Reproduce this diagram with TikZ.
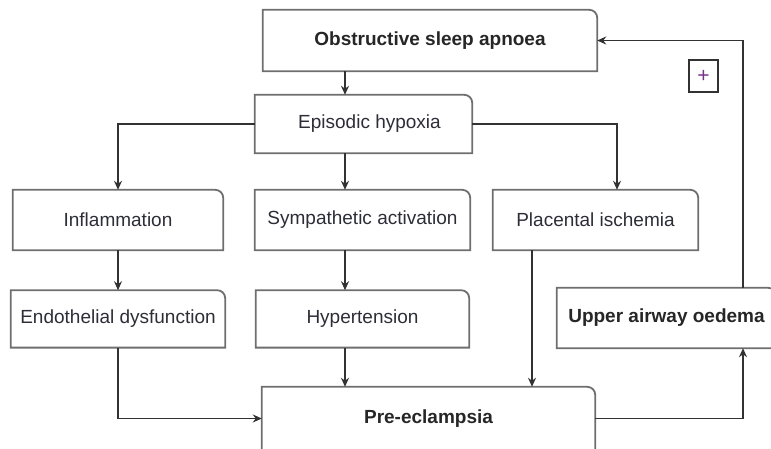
\documentclass[tikz,border=0pt]{standalone}
\usepackage{fontspec}
\setmainfont{Liberation Sans}
\usetikzlibrary{arrows.meta, positioning}
\definecolor{linegray}{RGB}{50,50,50}
\definecolor{boxgray}{RGB}{110,110,110}
\definecolor{textgray}{RGB}{45,45,55}
\definecolor{plusviolet}{RGB}{120,50,140}

\begin{document}
\begin{tikzpicture}[x=1pt, y=-1pt,
    box/.style={minimum height=58pt, inner sep=0pt, align=center, text=textgray, font=\fontsize{19}{22}\selectfont},
    boldbox/.style={box, text=black!85, font=\fontsize{19}{22}\selectfont\bfseries},
    boxline/.style={draw=boxgray, line width=1.8pt},
    arrow/.style={draw=linegray, line width=1.8pt, -{Stealth[length=9pt, width=8pt]}}
]
\useasboundingbox (0,0) rectangle (771,448);
\clip (0,0) rectangle (771,448);

% top
\node[boldbox, minimum width=334pt, minimum height=61pt] (osa) at (430,40.5) {Obstructive sleep apnoea};
\node[box, minimum width=217pt] (hyp) at (363.5,124) {\hspace*{12pt}Episodic hypoxia};

% mechanisms
\node[box, minimum width=210pt, minimum height=60pt] (infl) at (118,220) {Inflammation};
\node[box, minimum width=215pt, minimum height=60pt] (symp) at (362.5,220) {Sympathetic activation};
\node[box, minimum width=205pt, minimum height=60pt] (plac) at (595.5,220) {Placental ischemia};
\node[box, minimum width=214pt, minimum height=57pt, below=40pt of infl] (endo) {Endothelial dysfunction};
\node[box, minimum width=213pt, minimum height=57pt, below=40pt of symp] (htn) {Hypertension};

% outcome
\node[boldbox, minimum width=219pt, minimum height=60pt] (uao) at (666.5,318) {Upper airway oedema};
\node[boldbox, minimum width=333pt, minimum height=63pt] (pre) at (428.5,418.5) {Pre-eclampsia};
\node[draw=linegray, line width=1.6pt, minimum width=29pt, minimum height=32pt, inner sep=0pt,
      text=plusviolet, font=\fontsize{21}{21}\selectfont] (plus) at (703.5,76) {+};

% box outlines, only the top right corner rounded
\foreach \n in {osa,hyp,infl,symp,plac,endo,htn,uao,pre}
  \draw[boxline] (\n.south west) -- (\n.north west) [rounded corners=8pt] -- (\n.north east) [sharp corners] -- (\n.south east) -- cycle;

% arrows
\coordinate (spine) at (345,0);
\coordinate (pdrop) at (532,0);
\coordinate (pfeed) at (617,0);
\coordinate (loop) at (743,0);

\draw[arrow] (osa.south -| spine) -- (hyp.north -| spine);
\draw[arrow] (hyp.west) -| (infl.north);
\draw[arrow] (hyp.south -| spine) -- (symp.north -| spine);
\draw[arrow] (hyp.east) -| (plac.north -| pfeed);
\draw[arrow] (infl.south) -- (endo.north);
\draw[arrow] (symp.south -| spine) -- (htn.north -| spine);
\draw[arrow] (endo.south) |- (pre.west);
\draw[arrow] (htn.south -| spine) -- (pre.north -| spine);
\draw[arrow, line width=2.2pt] (plac.south -| pdrop) -- (pre.north -| pdrop);
\draw[arrow] (pre.east) -| (uao.south -| loop);
\draw[arrow] (uao.north -| loop) |- (osa.east);

\end{tikzpicture}
\end{document}
